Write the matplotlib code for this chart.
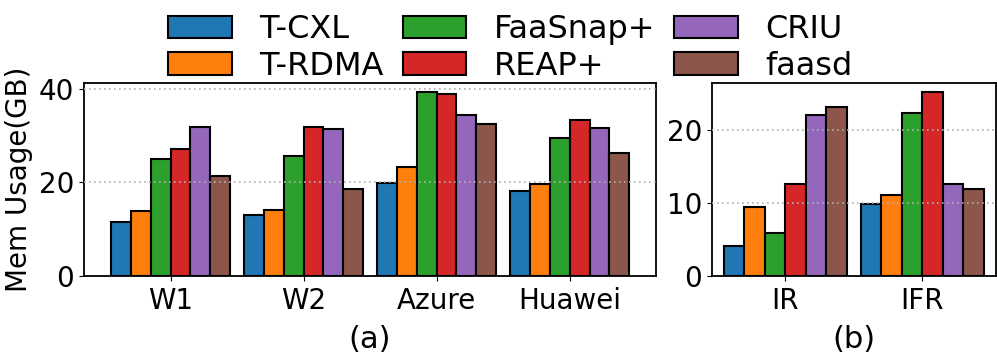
import matplotlib
matplotlib.use("Agg")
import matplotlib.pyplot as plt
import numpy as np

series = ["T-CXL", "T-RDMA", "FaaSnap+", "REAP+", "CRIU", "faasd"]
colors = ["#1f77b4", "#ff7f0e", "#2ca02c", "#d62728", "#9467bd", "#8c564b"]

cats_a = ["W1", "W2", "Azure", "Huawei"]
vals_a = {
    "T-CXL":    [11.6, 13.0, 19.8, 18.2],
    "T-RDMA":   [13.9, 14.1, 23.3, 19.6],
    "FaaSnap+": [25.0, 25.6, 39.4, 29.4],
    "REAP+":    [27.2, 31.9, 38.9, 33.4],
    "CRIU":     [31.9, 31.4, 34.4, 31.7],
    "faasd":    [21.3, 18.5, 32.5, 26.2],
}

cats_b = ["IR", "IFR"]
vals_b = {
    "T-CXL":    [4.1, 9.8],
    "T-RDMA":   [9.45, 11.05],
    "FaaSnap+": [5.9, 22.3],
    "REAP+":    [12.6, 25.2],
    "CRIU":     [22.05, 12.6],
    "faasd":    [23.15, 11.9],
}

plt.rcParams['font.family'] = ['DejaVu Sans']
fs_tick = 20
fs_label = 22
fs_leg = 23

fig = plt.figure(figsize=(9.97, 3.55), dpi=100)
ax1 = fig.add_axes([0.0843, 0.2225, 0.5737, 0.5445])
ax2 = fig.add_axes([0.7138, 0.2225, 0.2852, 0.5445])

w = 0.15

def draw(ax, cats, vals, ylim, yticks, xlim, xlabel):
    x = np.arange(len(cats))
    for i, s in enumerate(series):
        ax.bar(x + (i - 2.5) * w, vals[s], w, color=colors[i],
               edgecolor="black", linewidth=1.5, label=s, zorder=2)
    ax.set_xticks(x)
    ax.set_xticklabels(cats, fontsize=fs_tick)
    ax.set_yticks(yticks)
    ax.tick_params(axis='y', labelsize=fs_tick)
    ax.tick_params(axis='x', pad=4.5)
    ax.set_ylim(*ylim)
    ax.set_xlim(*xlim)
    ax.set_xlabel(xlabel, fontsize=fs_label, labelpad=7)
    for t in yticks[1:]:
        ax.axhline(t, color="#b0b0b0", linestyle=(0, (1, 2)), linewidth=1.2, zorder=3)
    for sp in ax.spines.values():
        sp.set_linewidth(1.3)

draw(ax1, cats_a, vals_a, (0, 41.3), [0, 20, 40], (-0.65, 3.65), "(a)")
draw(ax2, cats_b, vals_b, (0, 26.4), [0, 10, 20], (-0.54, 1.54), "(b)")
ax1.set_ylabel("Mem Usage(GB)", fontsize=fs_tick)

handles, labels = ax1.get_legend_handles_labels()
fig.legend(handles, labels, ncol=3, loc="upper left", bbox_to_anchor=(0.1685, 0.96),
           frameon=False, fontsize=fs_leg, handlelength=2.0, handletextpad=0.85,
           columnspacing=0.6, labelspacing=0.17, borderpad=0, borderaxespad=0)

fig.savefig("out.png", dpi=100)
